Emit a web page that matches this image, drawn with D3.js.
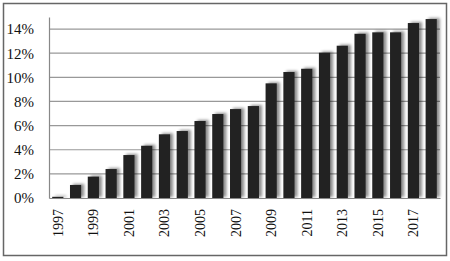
<!DOCTYPE html>
<html>
<head>
<meta charset="utf-8">
<script src="https://cdn.jsdelivr.net/npm/d3@7"></script>
<style>
  body { margin: 0; background: #fff; }
  text { font-family: "Liberation Serif", "Times New Roman", serif; fill: #111; }
</style>
</head>
<body>
<div id="chart"></div>
<script>
// Data
var years = ['1997','1998','1999','2000','2001','2002','2003','2004','2005','2006','2007',
  '2008','2009','2010','2011','2012','2013','2014','2015','2016','2017','2018'];
var shares = [0.001, 0.0108, 0.0177, 0.024, 0.0356, 0.0433, 0.0528, 0.0555, 0.0638, 0.0696, 0.0737,
  0.0762, 0.095, 0.1044, 0.1071, 0.1204, 0.1262, 0.1361, 0.1373, 0.1373, 0.145, 0.1483];
var yTicks = [0, 0.02, 0.04, 0.06, 0.08, 0.10, 0.12, 0.14];
var yearLabels = ['1997','1999','2001','2003','2005','2007','2009','2011','2013','2015','2017'];

var width = 450,
  height = 261;

var margin = { top: 17, right: 10, bottom: 63, left: 49 };

var svg = d3.select('#chart')
  .append('svg')
  .attr('width', width)
  .attr('height', height);

// Shadow behind the bars
var defs = svg.append('defs');
var filter = defs.append('filter')
  .attr('id', 'shadow')
  .attr('x', '-50%').attr('y', '-20%')
  .attr('width', '200%').attr('height', '140%');
filter.append('feGaussianBlur').attr('in', 'SourceAlpha').attr('stdDeviation', 1.6).attr('result', 'blur');
filter.append('feOffset').attr('in', 'blur').attr('dx', 3).attr('dy', -1).attr('result', 'off');
filter.append('feComponentTransfer').attr('in', 'off').attr('result', 'soft')
  .append('feFuncA').attr('type', 'linear').attr('slope', 0.45);
var merge = filter.append('feMerge');
merge.append('feMergeNode').attr('in', 'soft');
merge.append('feMergeNode').attr('in', 'SourceGraphic');

// Outer frame
svg.append('rect')
  .attr('x', 3.5).attr('y', 3.5)
  .attr('width', 443).attr('height', 252)
  .attr('fill', 'none')
  .attr('stroke', '#666')
  .attr('stroke-width', 1.5);

var innerW = 440 - margin.left,
  innerH = 198 - margin.top;

var g = svg.append('g')
  .attr('transform', 'translate(' + margin.left + ',' + margin.top + ')');

var xScale = d3.scaleBand()
  .domain(years)
  .range([0, innerW])
  .paddingInner(0.37)
  .paddingOuter(0.18);

var yScale = d3.scaleLinear()
  .domain([0, 0.15])
  .range([innerH, 0]);

// Gridlines
g.append('g')
  .selectAll('line')
  .data(yTicks.slice(1))
  .enter()
  .append('line')
  .attr('x1', 0)
  .attr('x2', innerW)
  .attr('y1', function(d) { return yScale(d); })
  .attr('y2', function(d) { return yScale(d); })
  .attr('stroke', '#999')
  .attr('stroke-width', 1.2);

// Y axis
var yAxis = g.append('g')
  .call(d3.axisLeft(yScale)
    .tickValues(yTicks)
    .tickSize(0)
    .tickPadding(15)
    .tickFormat(d3.format('.0%')));
yAxis.select('.domain').attr('stroke', '#888').attr('stroke-width', 1.2);
yAxis.selectAll('text').style('font-size', '15px');

// Bars
g.append('g')
  .attr('filter', 'url(#shadow)')
  .selectAll('rect')
  .data(shares)
  .enter()
  .append('rect')
  .attr('x', function(d, i) { return xScale(years[i]); })
  .attr('y', function(d) { return yScale(d); })
  .attr('width', xScale.bandwidth())
  .attr('height', function(d) { return innerH - yScale(d); })
  .attr('fill', '#222');

// X axis
var xAxis = g.append('g')
  .attr('transform', 'translate(0,' + innerH + ')')
  .call(d3.axisBottom(xScale)
    .tickValues(yearLabels)
    .tickSize(0)
    .tickPadding(0));
xAxis.select('.domain').attr('stroke', '#888').attr('stroke-width', 1.2);
xAxis.selectAll('text')
  .style('font-size', '14px')
  .attr('text-anchor', 'end')
  .attr('dy', '0.35em')
  .attr('transform', 'translate(0,11) rotate(-90)')
  .attr('x', 0)
  .attr('y', 0);
</script>
</body>
</html>
